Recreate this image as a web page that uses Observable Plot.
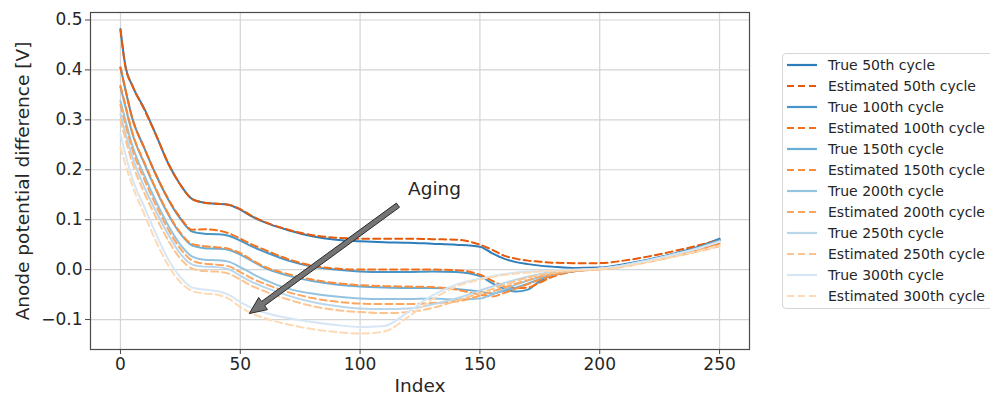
<!DOCTYPE html>
<html><head><meta charset="utf-8">
<script src="https://cdn.jsdelivr.net/npm/d3@7"></script>
<script src="https://cdn.jsdelivr.net/npm/@observablehq/plot@0.6"></script>
<style>
html,body{margin:0;padding:0;background:#fff;overflow:hidden}
#wrap{position:relative;width:990px;height:401px;overflow:hidden}
#legend{position:absolute;left:782px;top:53px;width:240px;border:1px solid #d6d6d6;border-radius:4px;background:#fff;font-family:"DejaVu Sans";font-size:14px;color:#262626;padding:0 0 2px 0}
.row{height:21px;display:flex;align-items:center}
.row svg{margin-left:4px;flex:none}
.row span{margin-left:11px;white-space:nowrap}
</style></head><body><div id="wrap"><div id="chart"></div><div id="legend"></div></div>
<script>
// ---- data ----
const index = [0,2,5,10,15,20,25,30,35,40,45,50,55,60,70,80,90,100,110,120,130,140,150,155,160,165,170,175,180,190,200,210,220,230,240,250];
const true50 = [0.482,0.410,0.368,0.322,0.268,0.212,0.170,0.141,0.134,0.132,0.130,0.120,0.106,0.095,0.079,0.067,0.060,0.057,0.055,0.054,0.052,0.050,0.046,0.033,0.022,0.015,0.011,0.008,0.006,0.003,0.004,0.011,0.020,0.031,0.044,0.062];
const est50 = [0.480,0.408,0.368,0.320,0.268,0.212,0.170,0.141,0.134,0.132,0.130,0.121,0.107,0.096,0.080,0.069,0.064,0.062,0.062,0.062,0.061,0.060,0.050,0.040,0.028,0.022,0.018,0.016,0.014,0.013,0.013,0.018,0.026,0.036,0.047,0.060];
const true100 = [0.405,0.362,0.302,0.243,0.188,0.140,0.102,0.076,0.072,0.071,0.068,0.058,0.046,0.036,0.018,0.006,0.000,-0.004,-0.005,-0.005,-0.004,-0.005,-0.013,-0.027,-0.038,-0.044,-0.040,-0.023,-0.012,-0.002,0.002,0.009,0.019,0.030,0.043,0.060];
const est100 = [0.405,0.362,0.302,0.243,0.188,0.141,0.104,0.080,0.081,0.079,0.073,0.062,0.050,0.040,0.021,0.008,0.002,0.000,0.000,0.000,0.000,-0.001,-0.010,-0.022,-0.033,-0.037,-0.036,-0.026,-0.015,-0.003,0.002,0.008,0.017,0.028,0.040,0.055];
const true150 = [0.366,0.328,0.272,0.212,0.158,0.110,0.072,0.048,0.043,0.042,0.040,0.030,0.017,0.004,-0.012,-0.023,-0.030,-0.034,-0.036,-0.037,-0.037,-0.039,-0.044,-0.048,-0.043,-0.036,-0.028,-0.019,-0.011,-0.003,0.001,0.008,0.018,0.029,0.042,0.058];
const est150 = [0.368,0.330,0.274,0.214,0.160,0.112,0.074,0.051,0.047,0.045,0.042,0.033,0.019,0.006,-0.009,-0.020,-0.027,-0.031,-0.033,-0.034,-0.035,-0.040,-0.050,-0.054,-0.047,-0.038,-0.029,-0.020,-0.012,-0.003,0.001,0.007,0.016,0.026,0.038,0.052];
const true200 = [0.338,0.300,0.248,0.188,0.135,0.088,0.050,0.026,0.020,0.019,0.016,0.005,-0.008,-0.020,-0.038,-0.048,-0.054,-0.058,-0.059,-0.059,-0.058,-0.060,-0.058,-0.050,-0.040,-0.030,-0.022,-0.015,-0.009,-0.002,0.002,0.009,0.019,0.030,0.042,0.057];
const est200 = [0.330,0.292,0.240,0.180,0.127,0.080,0.042,0.018,0.012,0.010,0.007,-0.005,-0.018,-0.028,-0.045,-0.057,-0.064,-0.068,-0.069,-0.069,-0.067,-0.064,-0.052,-0.044,-0.036,-0.028,-0.021,-0.014,-0.009,-0.002,0.001,0.007,0.016,0.026,0.037,0.050];
const true250 = [0.312,0.275,0.225,0.165,0.115,0.070,0.032,0.010,0.006,0.005,0.001,-0.012,-0.025,-0.035,-0.052,-0.065,-0.073,-0.078,-0.079,-0.078,-0.070,-0.058,-0.042,-0.034,-0.027,-0.020,-0.014,-0.009,-0.005,-0.001,0.002,0.009,0.018,0.029,0.041,0.056];
const est250 = [0.300,0.263,0.213,0.153,0.103,0.058,0.022,0.002,-0.003,-0.004,-0.008,-0.020,-0.033,-0.043,-0.060,-0.073,-0.081,-0.085,-0.087,-0.085,-0.077,-0.063,-0.047,-0.039,-0.031,-0.023,-0.016,-0.011,-0.007,-0.002,0.000,0.006,0.015,0.025,0.035,0.047];
const true300 = [0.272,0.232,0.182,0.125,0.070,0.020,-0.015,-0.036,-0.040,-0.043,-0.050,-0.065,-0.077,-0.086,-0.097,-0.105,-0.111,-0.115,-0.113,-0.085,-0.052,-0.030,-0.018,-0.013,-0.009,-0.006,-0.004,-0.003,-0.002,0.000,0.002,0.008,0.018,0.029,0.041,0.056];
const est300 = [0.245,0.212,0.168,0.110,0.055,0.008,-0.025,-0.043,-0.048,-0.050,-0.058,-0.075,-0.088,-0.097,-0.110,-0.119,-0.125,-0.128,-0.124,-0.095,-0.060,-0.034,-0.020,-0.015,-0.011,-0.008,-0.006,-0.004,-0.003,-0.001,0.001,0.006,0.015,0.025,0.036,0.048];

const cycles = ["50th","100th","150th","200th","250th","300th"];
const trueSeries = [true50,true100,true150,true200,true250,true300];
const estSeries = [est50,est100,est150,est200,est250,est300];

const xTicks = [0,50,100,150,200,250];
const xTickLabels = ["0","50","100","150","200","250"];
const yTicks = [-0.1,0,0.1,0.2,0.3,0.4,0.5];
const yTickLabels = ["\u22120.1","0.0","0.1","0.2","0.3","0.4","0.5"];
const xLabel = "Index";
const yLabel = "Anode potential difference [V]";
const annotationText = "Aging";
const annotationAt = [120, 0.162];
const arrowFrom = [116, 0.128];
const arrowTo = [54, -0.089];

// ---- styles ----
const trueColors = ["#2d7dbb","#4896c8","#6aaed6","#94c4df","#b9d6eb","#d6e6f4"];
const estColors = ["#e5590a","#f36f1a","#fd8c3b","#fda660","#fdc38d","#fdd9b4"];
const dash = "7,4";

const series = [];
cycles.forEach((c, k) => {
  series.push({label: `True ${c} cycle`, values: trueSeries[k], color: trueColors[k], dash: null});
  series.push({label: `Estimated ${c} cycle`, values: estSeries[k], color: estColors[k], dash: dash});
});

const lineMarks = series.map(s => Plot.line(index.map((x, i) => ({x, y: s.values[i]})), {
  x: "x", y: "y", stroke: s.color, strokeWidth: 2, strokeDasharray: s.dash || undefined, curve: "monotone-x"
}));

function arrowMark(idx, scales) {
  const x1 = scales.x(arrowFrom[0]), y1 = scales.y(arrowFrom[1]);
  const x2 = scales.x(arrowTo[0]), y2 = scales.y(arrowTo[1]);
  const dx = x2 - x1, dy = y2 - y1, L = Math.hypot(dx, dy);
  const ux = dx / L, uy = dy / L, px = -uy, py = ux;
  const sw = 2.6, hw = 7.5, hl = 17;
  const bx = x2 - ux * hl, by = y2 - uy * hl;
  const pts = [
    [x1 + px * sw, y1 + py * sw], [bx + px * sw, by + py * sw], [bx + px * hw, by + py * hw],
    [x2, y2], [bx - px * hw, by - py * hw], [bx - px * sw, by - py * sw], [x1 - px * sw, y1 - py * sw]
  ];
  const poly = document.createElementNS("http://www.w3.org/2000/svg", "polygon");
  poly.setAttribute("points", pts.map(p => p.join(",")).join(" "));
  poly.setAttribute("fill", "#747474");
  poly.setAttribute("stroke", "#2b2b2b");
  poly.setAttribute("stroke-width", "1");
  poly.setAttribute("stroke-linejoin", "miter");
  return poly;
}

const chart = Plot.plot({
  width: 990,
  height: 401,
  marginLeft: 90,
  marginRight: 241,
  marginTop: 12,
  marginBottom: 52,
  style: {fontFamily: "DejaVu Sans", fontSize: "17px", color: "#262626", background: "#fff"},
  x: {domain: [-12.5, 262.5]},
  y: {domain: [-0.16, 0.515]},
  marks: [
    Plot.gridX(xTicks, {stroke: "#d4d4d4", strokeOpacity: 1, strokeWidth: 1.2}),
    Plot.gridY(yTicks, {stroke: "#d4d4d4", strokeOpacity: 1, strokeWidth: 1.2}),
    ...lineMarks,
    arrowMark,
    Plot.text([annotationText], {x: () => annotationAt[0], y: () => annotationAt[1], text: d => d, textAnchor: "start", fontSize: 18.5, fill: "#262626"}),
    Plot.frame({stroke: "#4a4a4a", strokeWidth: 1.2}),
    Plot.axisX(xTicks, {tickSize: 5, tickPadding: 3, tickFormat: d => xTickLabels[xTicks.indexOf(d)], label: null, stroke: "#4a4a4a", fill: "#262626"}),
    Plot.axisY(yTicks, {tickSize: 5, tickPadding: 3, tickFormat: d => yTickLabels[yTicks.indexOf(d)], label: null, stroke: "#4a4a4a", fill: "#262626"}),
    Plot.text([xLabel], {frameAnchor: "bottom", dy: 42, text: d => d, fontSize: 18.5, fill: "#262626"}),
    Plot.text([yLabel], {frameAnchor: "left", dx: -67, rotate: -90, textAnchor: "middle", text: d => d, fontSize: 18.5, fill: "#262626"})
  ]
});
document.getElementById("chart").appendChild(chart);

// ---- legend ----
const legend = document.getElementById("legend");
series.forEach(s => {
  const row = document.createElement("div");
  row.className = "row";
  row.innerHTML = `<svg width="30" height="6"><line x1="0" y1="3" x2="30" y2="3" stroke="${s.color}" stroke-width="2.2" ${s.dash ? `stroke-dasharray="${s.dash}"` : ""}/></svg><span>${s.label}</span>`;
  legend.appendChild(row);
});
</script></body></html>
